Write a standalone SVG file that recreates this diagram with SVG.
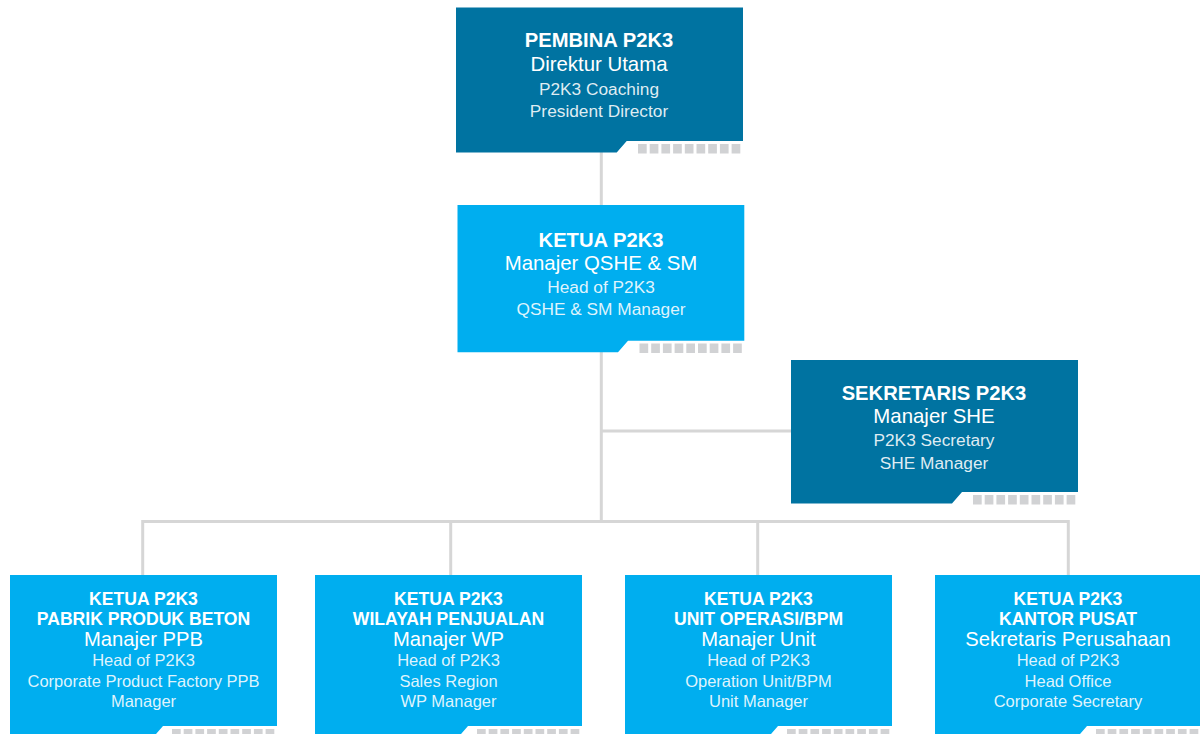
<svg xmlns="http://www.w3.org/2000/svg" width="1200" height="734" viewBox="0 0 1200 734">
<defs>
<style>
.dark{fill:#0073a1}
.light{fill:#00aeef}
.sq{fill:#d1d2d4}
.conn{stroke:#d6d6d6;stroke-width:3;fill:none}
text{font-family:"Liberation Sans",Arial,sans-serif;text-anchor:middle;fill:#ffffff}
.b1{font-weight:bold;font-size:20.2px}
.r1{font-size:20.4px}
.s1{font-size:17.3px;fill-opacity:0.88}
.b2{font-weight:bold;font-size:17.6px}
.r2{font-size:20.2px}
.s2{font-size:16.5px;fill-opacity:0.88}
</style>
<g id="dots">
<rect x="0" y="0" width="8.7" height="9.5"/>
<rect x="11.7" y="0" width="8.7" height="9.5"/>
<rect x="23.4" y="0" width="8.7" height="9.5"/>
<rect x="35.1" y="0" width="8.7" height="9.5"/>
<rect x="46.8" y="0" width="8.7" height="9.5"/>
<rect x="58.5" y="0" width="8.7" height="9.5"/>
<rect x="70.2" y="0" width="8.7" height="9.5"/>
<rect x="81.9" y="0" width="8.7" height="9.5"/>
<rect x="93.6" y="0" width="8.7" height="9.5"/>
</g>
</defs>
<rect width="1200" height="734" fill="#ffffff"/>
<g id="connectors" class="conn">
<path d="M601.3 152 V205"/>
<path d="M601.3 352 V521.5"/>
<path d="M601.3 431 H791"/>
<path d="M142.7 575 V521.5 H1068.3 V575"/>
<path d="M450.7 521.5 V575"/>
<path d="M757.7 521.5 V575"/>
</g>
<g id="pembina">
<path class="dark" d="M456 7.5 H743 V141 H626.7 L616.7 152.5 H456 Z"/>
<use href="#dots" class="sq" x="638" y="144"/>
<text x="599" y="47" class="b1">PEMBINA P2K3</text>
<text x="599" y="71" class="r1">Direktur Utama</text>
<text x="599" y="94.5" class="s1">P2K3 Coaching</text>
<text x="599" y="117" class="s1">President Director</text>
</g>
<g id="ketua">
<path class="light" d="M457.5 205 H744.3 V340.7 H628 L618 352.3 H457.5 Z"/>
<use href="#dots" class="sq" x="639.5" y="343.5"/>
<text x="601" y="246.7" class="b1">KETUA P2K3</text>
<text x="601" y="270" class="r1">Manajer QSHE &amp; SM</text>
<text x="601" y="292.7" class="s1">Head of P2K3</text>
<text x="601" y="315" class="s1">QSHE &amp; SM Manager</text>
</g>
<g id="sekretaris">
<path class="dark" d="M791 360 H1078 V492 H962 L952 503.5 H791 Z"/>
<use href="#dots" class="sq" x="973" y="495"/>
<text x="934" y="400" class="b1">SEKRETARIS P2K3</text>
<text x="934" y="423" class="r1">Manajer SHE</text>
<text x="934" y="446" class="s1">P2K3 Secretary</text>
<text x="934" y="468.5" class="s1">SHE Manager</text>
</g>
<g id="ppb">
<path class="light" d="M10 575 H277 V726 H163 L153 737.5 H10 Z"/>
<use href="#dots" class="sq" x="172" y="729"/>
<text x="143.5" y="605" class="b2">KETUA P2K3</text>
<text x="143.5" y="624.5" class="b2">PABRIK PRODUK BETON</text>
<text x="143.5" y="646" class="r2">Manajer PPB</text>
<text x="143.5" y="666.3" class="s2">Head of P2K3</text>
<text x="143.5" y="686.7" class="s2">Corporate Product Factory PPB</text>
<text x="143.5" y="706.7" class="s2">Manager</text>
</g>
<g id="wp">
<path class="light" d="M315 575 H582 V726 H468 L458 737.5 H315 Z"/>
<use href="#dots" class="sq" x="477" y="729"/>
<text x="448.5" y="605" class="b2">KETUA P2K3</text>
<text x="448.5" y="624.5" class="b2">WILAYAH PENJUALAN</text>
<text x="448.5" y="646" class="r2">Manajer WP</text>
<text x="448.5" y="666.3" class="s2">Head of P2K3</text>
<text x="448.5" y="686.7" class="s2">Sales Region</text>
<text x="448.5" y="706.7" class="s2">WP Manager</text>
</g>
<g id="unit">
<path class="light" d="M625 575 H892 V726 H778 L768 737.5 H625 Z"/>
<use href="#dots" class="sq" x="787" y="729"/>
<text x="758.5" y="605" class="b2">KETUA P2K3</text>
<text x="758.5" y="624.5" class="b2">UNIT OPERASI/BPM</text>
<text x="758.5" y="646" class="r2">Manajer Unit</text>
<text x="758.5" y="666.3" class="s2">Head of P2K3</text>
<text x="758.5" y="686.7" class="s2">Operation Unit/BPM</text>
<text x="758.5" y="706.7" class="s2">Unit Manager</text>
</g>
<g id="pusat">
<path class="light" d="M935 575 H1201 V726 H1087 L1077 737.5 H935 Z"/>
<use href="#dots" class="sq" x="1096" y="729"/>
<text x="1068" y="605" class="b2">KETUA P2K3</text>
<text x="1068" y="624.5" class="b2">KANTOR PUSAT</text>
<text x="1068" y="646" class="r2">Sekretaris Perusahaan</text>
<text x="1068" y="666.3" class="s2">Head of P2K3</text>
<text x="1068" y="686.7" class="s2">Head Office</text>
<text x="1068" y="706.7" class="s2">Corporate Secretary</text>
</g>
</svg>
